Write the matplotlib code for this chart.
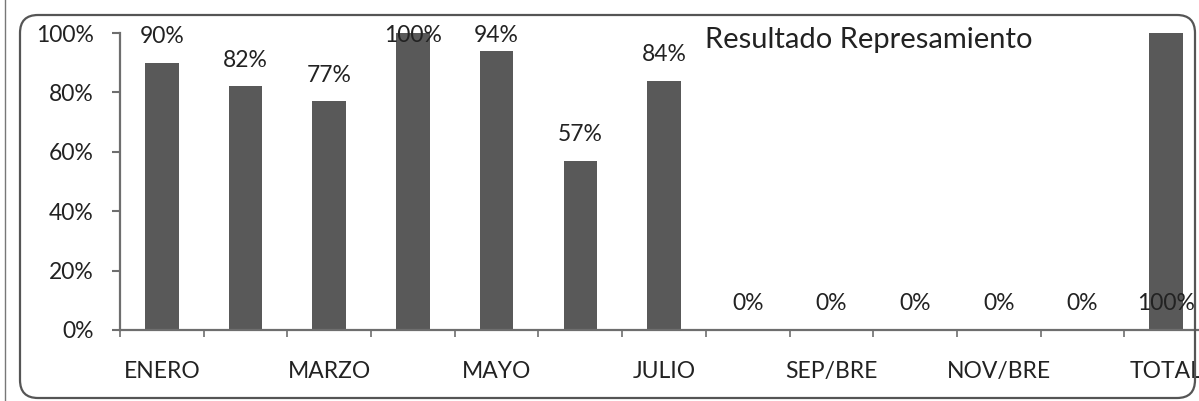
import numpy as np
import matplotlib.pyplot as plt
from matplotlib.patches import FancyBboxPatch
from matplotlib.lines import Line2D
from matplotlib.ticker import PercentFormatter

# Data
categories = ["ENERO", "FEBRERO", "MARZO", "ABRIL", "MAYO", "JUNIO", "JULIO",
              "AGOSTO", "SEP/BRE", "OCT/BRE", "NOV/BRE", "DIC/BRE", "TOTAL"]
values = [0.90, 0.82, 0.77, 1.00, 0.94, 0.57, 0.84, 0.0, 0.0, 0.0, 0.0, 0.0, 1.00]
title = "Resultado Represamiento"

plt.rcParams['font.family'] = ['Lato', 'DejaVu Sans']
text_color = '#222222'
axis_color = '#6e6e6e'

fig = plt.figure(figsize=(11.99, 4.01), dpi=100)

# rounded chart frame (inches)
frame = FancyBboxPatch((0.20, 0.03), 11.75, 3.83,
                       boxstyle="round,pad=0,rounding_size=0.18",
                       transform=fig.dpi_scale_trans, fill=False,
                       edgecolor='#555555', linewidth=1.6)
fig.patches.append(frame)
# page edge on the left
fig.lines.append(Line2D([5 / 1199, 5 / 1199], [0, 1], transform=fig.transFigure,
                        color='#777777', linewidth=1.0))

ax = fig.add_axes([120 / 1199, 71 / 401, 1088 / 1199, 297 / 401])
x = np.arange(len(categories))
ax.bar(x, values, width=0.4, color='#595959', zorder=2)

ax.set_xlim(-0.5, len(categories) - 0.5)
ax.set_ylim(0, 1)
ax.yaxis.set_major_formatter(PercentFormatter(1.0, decimals=0))
ax.set_yticks(np.arange(0, 1.01, 0.2))

# only every other month label is shown
ax.set_xticks(x[::2])
ax.set_xticklabels(categories[::2])
ax.set_xticks(np.arange(-0.5, len(categories), 1), minor=True)
ax.tick_params(axis='x', which='major', length=0, pad=22, labelsize=16.5,
               labelcolor=text_color)
ax.tick_params(axis='x', which='minor', length=5, width=1.2, color=axis_color,
               direction='out')
ax.tick_params(axis='y', length=6, width=1.5, color=axis_color, pad=13,
               labelsize=16.5, labelcolor=text_color)

for side in ['top', 'right']:
    ax.spines[side].set_visible(False)
for side in ['left', 'bottom']:
    ax.spines[side].set_color(axis_color)
    ax.spines[side].set_linewidth(1.6)

# value labels above bars, kept inside the plot area;
# the TOTAL label sits down at the base like in the original
for xi, v in zip(x, values):
    y_lab = min(v + 0.088, 0.99)
    if categories[xi] == "TOTAL":
        y_lab = 0.088
    ax.text(xi, y_lab, f"{v:.0%}", ha='center', va='center',
            fontsize=16.5, color=text_color, clip_on=False, zorder=3)

fig.text(705 / 1199, 1 - 40 / 401, title, ha='left', va='center',
         fontsize=21, color=text_color)

fig.savefig("out.png", dpi=100)
